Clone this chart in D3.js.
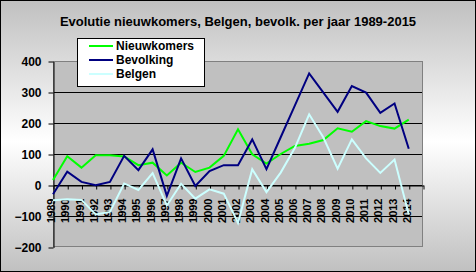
<!DOCTYPE html>
<html>
<head>
<meta charset="utf-8">
<script src="https://cdn.jsdelivr.net/npm/d3@7"></script>
<style>
  body { margin: 0; }
  svg { display: block; font-family: "Liberation Sans", Arial, sans-serif; }
</style>
</head>
<body>
<div id="chart"></div>
<script>
// data
var years = ['1989','1990','1991','1992','1993','1994','1995','1996','1997','1998','1999','2000','2001',
             '2002','2003','2004','2005','2006','2007','2008','2009','2010','2011','2012','2013','2014'];
var nieuwkomers = [16, 93, 56, 96, 96, 92, 64, 72, 31, 72, 42, 56, 94, 180, 99, 69, 100, 126, 133, 145, 183, 172, 206, 190, 182, 211];
var bevolking = [-30, 43, 10, -1, 10, 94, 48, 115, -35, 86, -3, 45, 64, 64, 147, 51, 154, 257, 360, 298, 236, 319, 298, 233, 263, 117];
var belgen = [-49, -46, -48, -95, -87, 5, -16, 38, -66, 4, -44, -14, -28, -122, 51, -23, 40, 120, 228, 153, 53, 147, 86, 39, 82, -95];
var yTicks = [-200, -100, 0, 100, 200, 300, 400];
var seriesNames = ['Nieuwkomers', 'Bevolking', 'Belgen'];
var seriesColors = ['#00ff00', '#000080', '#ccffff'];

var width = 476, height = 272;
var plot = {l: 53, r: 423, t: 61, b: 247};
var font = '"Liberation Sans", Arial, sans-serif';

var svg = d3.select('#chart')
	.append('svg')
	.attr('width', width)
	.attr('height', height);

// background gradient, gray - white - gray
var grad = svg.append('defs')
	.append('linearGradient')
	.attr('id', 'bg')
	.attr('x1', 0).attr('y1', 0).attr('x2', 0).attr('y2', 1);
grad.append('stop').attr('offset', '0%').attr('stop-color', '#c0c0c0');
grad.append('stop').attr('offset', '52%').attr('stop-color', '#ffffff');
grad.append('stop').attr('offset', '100%').attr('stop-color', '#c0c0c0');

svg.append('rect')
	.attr('x', 0.5).attr('y', 0.5)
	.attr('width', width - 1).attr('height', height - 1)
	.style('fill', 'url(#bg)')
	.style('stroke', 'black');

svg.append('text')
	.attr('x', 238)
	.attr('y', 26)
	.attr('text-anchor', 'middle')
	.style('font-size', '13px')
	.style('font-weight', 'bold')
	.text('Evolutie nieuwkomers, Belgen, bevolk. per jaar 1989-2015');

var x = d3.scaleLinear().domain([0, years.length]).range([plot.l, plot.r]);
var y = d3.scaleLinear().domain([-200, 400]).range([plot.b, plot.t]);

// plot area
svg.append('rect')
	.attr('x', plot.l).attr('y', plot.t)
	.attr('width', plot.r - plot.l).attr('height', plot.b - plot.t)
	.style('fill', '#c0c0c0');

svg.append('g')
	.selectAll('line')
	.data(yTicks.filter(function(d){ return d > -200 && d < 400; }))
	.enter()
	.append('line')
	.attr('x1', plot.l).attr('x2', plot.r)
	.attr('y1', function(d){ return Math.round(y(d)) + 0.5; })
	.attr('y2', function(d){ return Math.round(y(d)) + 0.5; })
	.style('stroke', 'black');

svg.append('rect')
	.attr('x', plot.l + 0.5).attr('y', Math.round(plot.t) + 0.5)
	.attr('width', plot.r - plot.l - 1).attr('height', plot.b - plot.t - 1)
	.style('fill', 'none')
	.style('stroke', '#808080');

// y axis
var yAxis = svg.append('g')
	.attr('transform', 'translate(' + (plot.l + 0.5) + ',0.5)')
	.call(d3.axisLeft(y).tickValues(yTicks).tickSize(5).tickPadding(7).tickSizeOuter(0));
yAxis.attr('font-family', font);
yAxis.select('.domain').style('stroke', 'black');
yAxis.selectAll('text')
	.style('font-size', '12px')
	.style('font-weight', 'bold')
	.style('fill', 'black');

// x axis at zero
var xAxis = svg.append('g')
	.attr('transform', 'translate(0.5,' + (Math.round(y(0)) + 0.5) + ')')
	.call(d3.axisBottom(x)
		.tickValues(d3.range(years.length + 1))
		.tickFormat(function(i){ return years[i] || ''; })
		.tickSize(4)
		.tickSizeOuter(0));
xAxis.attr('font-family', font);
xAxis.select('.domain').style('stroke', 'black');
xAxis.selectAll('text')
	.attr('transform', 'rotate(-90)')
	.attr('x', -13)
	.attr('y', 0)
	.attr('dy', '0.1em')
	.attr('text-anchor', 'end')
	.style('font-size', '11px')
	.style('font-weight', 'bold')
	.style('fill', 'black');

// lines
var line = d3.line()
	.x(function(d, i){ return x(i); })
	.y(function(d){ return y(d); });

[nieuwkomers, bevolking, belgen].forEach(function(values, k){
	svg.append('path')
		.datum(values)
		.attr('d', line)
		.style('fill', 'none')
		.style('stroke', seriesColors[k])
		.style('stroke-width', 2)
		.style('stroke-linejoin', 'miter');
});

// legend
var legend = svg.append('g');
legend.append('rect')
	.attr('x', 77.5).attr('y', 38.5)
	.attr('width', 127).attr('height', 48)
	.style('fill', 'white')
	.style('stroke', 'black');

seriesNames.forEach(function(name, k){
	var row = legend.append('g')
		.attr('transform', 'translate(0,' + (46 + k * 14) + ')');
	row.append('line')
		.attr('x1', 89).attr('x2', 113)
		.attr('y1', 0).attr('y2', 0)
		.style('stroke', seriesColors[k])
		.style('stroke-width', 2);
	row.append('text')
		.attr('x', 116)
		.attr('y', 0)
		.attr('dy', '0.36em')
		.style('font-size', '12px')
		.style('font-weight', 'bold')
		.text(name);
});
</script>
</body>
</html>
